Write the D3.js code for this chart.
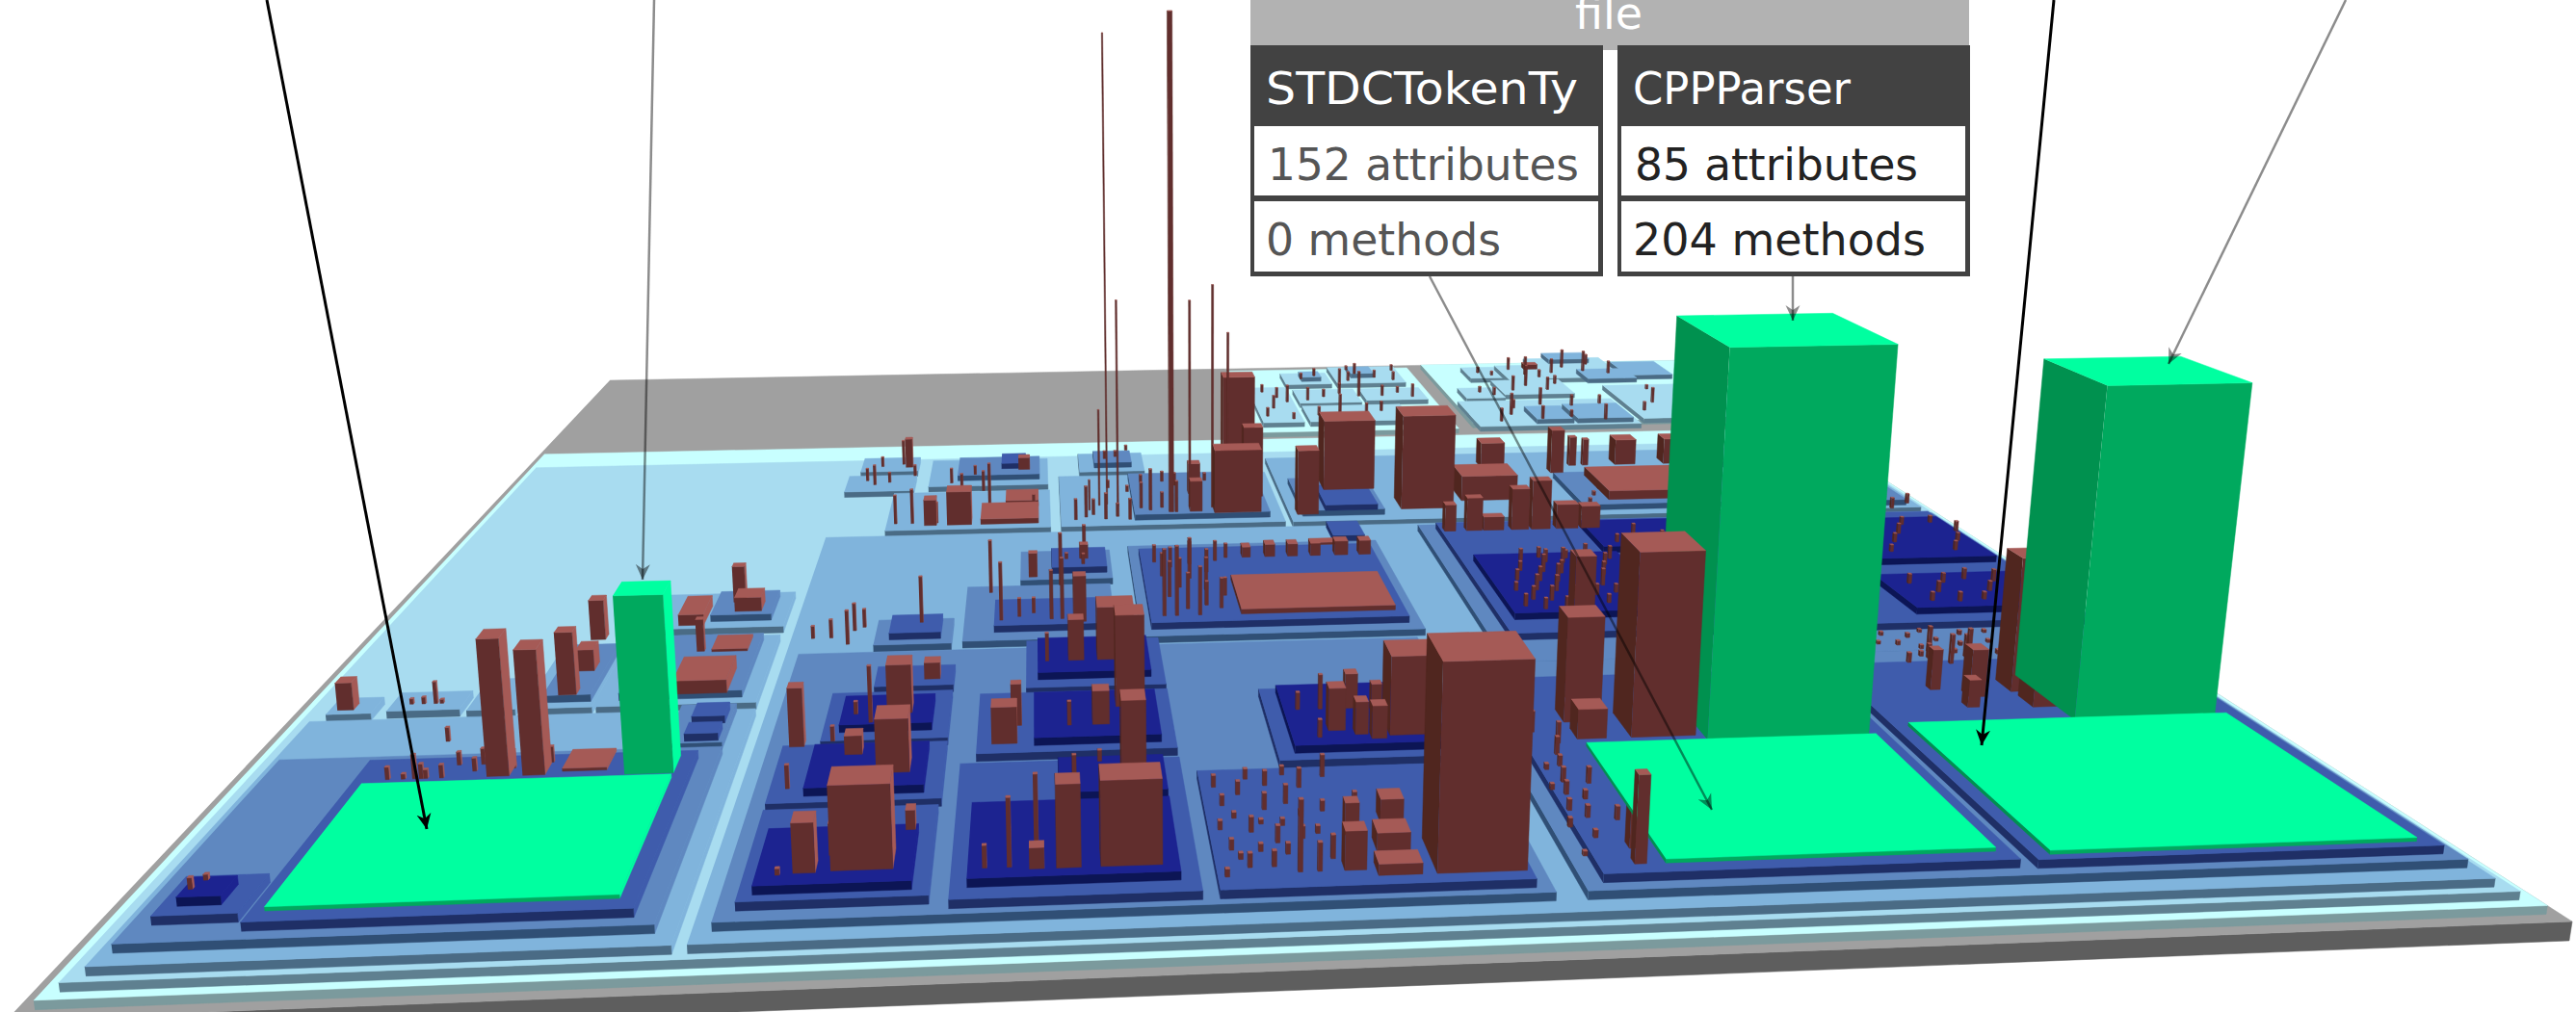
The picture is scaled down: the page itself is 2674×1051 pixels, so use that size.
<!DOCTYPE html>
<html lang="en">
<head>
<meta charset="UTF-8">
<title>Code city - file view</title>
<script src="https://d3js.org/d3.v7.min.js"></script>
<style>
  html, body { margin: 0; background: #fff; overflow: hidden; }
  text { font-family: "DejaVu Sans", sans-serif; }
</style>
</head>
<body>
<svg id="city" width="2674" height="1051"></svg>
<script>
// City data. Ground units run 0-1000 across (u) and front to back (v).
// Slabs: [u0, v0, u1, v1]
const level1Slabs = [[7,6,994,745],[555,765,720,975],[735,780,985,985]];
const level2Slabs = [[14,11,986,695],[600,905,640,945],[645,905,705,965],[565,780,598,895],[603,840,655,885],[660,845,712,885],[603,780,685,830],
  [735,755,865,835],[765,915,795,955],[797,900,830,960],[745,845,778,880],[780,855,840,905],[872,770,960,880],[830,910,900,985]];
const level3Slabs = [[22,15,241,237],[247,15,978,505],[552,515,978,665],[160,245,240,337],[167,350,240,405],[27,245,49,265],[56,247,92,270],[96,245,120,285],[124,245,158,330],
  [284,516,392,598],[399,516,547,630],[307,612,391,677],[249,604,297,642],[256,652,297,687],[414,640,461,687],
  [782,760,812,800],[815,760,860,805],[862,890,905,925],[900,900,940,950],[848,965,885,990],[615,915,632,935],[660,925,680,950]];
const level4Slabs = [[28,24,233,185],[205,190,232,235],[170,252,232,330],[198,360,232,398],[132,252,156,320],[255,24,590,298],[440,310,597,462],[373,405,428,456],[342,310,426,395],[294,308,336,345],
  [448,526,538,620],[327,625,385,670],[560,526,615,600],[603,24,973,260],[630,260,973,490],[750,525,870,600],[880,520,970,620],[425,650,452,680]];
const level5Slabs = [[37,37,70,68],[74,30,224,173],[214,192,230,205],[214,212,230,228],[263,32,339,110],[263,116,340,175],[280,179,340,235],[300,242,340,268],[347,28,448,150],[354,160,448,229],[377,235,448,298],
  [455,28,583,135],[494,143,585,225],[446,320,590,445],[570,462,590,490],[392,415,425,450],[359,322,420,362],[302,315,330,342],[358,640,375,665],[575,525,610,570],[611,30,785,230],[792,29,966,236],[640,290,966,482]];
const level6Slabs = [[44,44,61,60],[269,37,332,85],[279,122,332,167],[288,188,332,222],[354,37,440,103],[392,110,440,145],[381,167,441,220],[383,245,441,292],[502,150,575,220],[647,310,735,408],[730,417,800,468],[872,302,955,356],[850,383,960,459]];

// Files as boxes: [u, v, width, depth, height, level]
const greenFiles = [[80,38,137,107,5,5],[639,37,139,111,5,5],[799,33,158,126,5,5],[195,150,22,18,242,5],[698,151,78,70,537,5],[882,160,70,55,470,5]];
const brownFiles = [
  [133,152,10,12,187,5],[149,152,10,12,171,5],[140,252,9,8,95,4],[139,327,8,8,64,4],[142,283,9,12,33,4],[166,155,20,20,4,5],[198,249,27,32,20,4],[181,355,14,30,18,3],[208,305,19,20,4,4],[200,306,4,4,51,4],[211,365,15,15,23,4],[208,380,7,6,61,4],[31,250,8,8,41,3],
  [299,47,25,17,105,6],[284,46,9,10,62,6],[310,135,15,15,73,6],[294,155,8,8,26,6],[310,200,12,12,70,6],[325,250,8,8,25,5],[265,182,7,7,84,4],[327,80,4,6,25,6],[297,60,3,6,40,6],
  [408,43,25,15,106,6],[420,120,11,12,107,6],[421,200,14,14,133,6],[414,260,19,16,81,6],[390,43,10,10,103,6],[379,43,6,6,26,6],[361,170,12,10,52,5],[370,190,5,5,60,5],[409,180,8,8,48,6],[399,260,8,8,63,6],
  [544,35,37,30,258,5],[548,158,24,20,111,6],[520,35,18,11,14,5],[523,55,14,12,23,5],[529,80,10,10,30,5],[507,40,9,8,49,5],[512,70,6,6,41,5],[532,160,6,7,46,6],[539,155,7,7,46,6],[520,165,8,8,60,6],[532,190,6,6,50,6],[544,185,5,5,40,6],
  [497,330,87,56,8,5],[580,425,7,8,25,5],[565,425,8,8,25,5],[550,425,6,8,22,5],[536,425,6,8,22,5],[522,425,6,8,22,5],[508,425,5,8,18,5],[553,445,17,8,4,5],
  [501,526,31,16,121,4],[514,600,22,15,210,4],[524,560,13,10,138,4],[485,530,8,8,59,4],[487,570,8,8,60,4],[557,530,14,12,125,3],[581,572,35,25,138,4],[626,525,35,25,181,4],[670,540,38,28,48,4],[770,535,70,57,17,4],
  [748,600,9,10,88,4],[705,630,17,14,51,3],[804,630,15,14,52,3],[840,630,20,14,52,3],[770,630,5,5,60,3],[780,630,4,4,55,3],[642,465,7,7,49,5],[656,465,10,7,61,5],[667,465,13,7,25,5],[685,465,11,8,76,5],[698,465,12,8,91,5],[714,465,14,8,45,5],[730,465,12,8,41,5],
  [663,156,31,28,260,5],[637,156,14,12,42,5],[636,175,18,15,151,5],[645,195,10,10,217,5],[626,37,5,5,111,5],[628,50,6,6,50,5],[870,176,14,14,131,5],[869,195,13,15,198,5],[845,190,8,8,70,5],[838,178,6,6,40,5],[830,200,5,5,60,5],
  [324,525,16,14,64,3],[309,525,8,10,49,3],[346,525,38,35,10,3],[362,562,22,25,12,3],[370,650,8,8,25,3],[378,410,5,5,42,4],[409,430,5,5,25,5],[403,325,7,7,75,5],[288,662,5,5,60,3],[820,945,12,8,12,2]
];

// Thin files on a level: [u, v, height, level, optional width]
const thinFiles = [
  // tall spikes behind the middle blocks
  [471,530,934,4,3],[430,550,893,4,0.8],[437,545,400,4,1],[485,540,400,4,1.2],[500,538,430,4,1.2],[510,536,340,4,1.2],[425,560,190,3,1],[418,550,60,3,1],
  // left district
  [46,50,14,6],[49,57,7,6],[88,152,17,5],[95,152,7,5],[100,152,33,5],[103,152,20,5],[105,152,12,5],[112,152,18,5],[116,165,18,5],[125,158,18,5],[127,165,22,5],[142,160,25,5],[158,165,22,5],[77,255,33,3],[71,255,10,3],[65,255,8,3],[80,255,6,3],[100,200,20,4],
  // lower middle
  [270,130,32,5],[286,170,21,6],[277,45,8,6],[294,200,18,6],[381,55,100,6],[370,45,86,6],[360,45,28,6],[398,120,36,6],[410,140,15,6],[397,180,34,6],[387,260,43,6],[302,190,81,6],
  [516,75,48,5],[496,40,36,5],[488,40,90,5],[503,50,30,5],[478,45,20,5],[482,65,22,5],[468,45,18,5],[472,75,20,5],[462,60,14,5],[480,95,22,5],[470,110,18,5],[490,100,25,5],[462,100,14,5],[475,125,14,5],[498,115,26,5],[510,125,30,5],[519,190,50,6],[514,158,25,6],[508,190,25,6],
  [458,38,10,5],[465,52,8,5],[459,78,12,5],[466,88,8,5],[474,58,10,5],[477,82,6,5],[485,55,14,5],[486,80,9,5],[493,68,16,5],[495,88,8,5],[500,72,10,5],[505,92,14,5],[460,118,16,5],[483,118,20,5],[492,128,12,5],
  [608,70,12,5],[612,85,15,5],[615,100,18,5],[617,112,20,5],[620,128,15,5],[622,140,25,5],[626,152,30,5],[616,60,10,5],[610,105,8,5],[613,125,8,5],[607,45,6,5],[618,78,16,5],[622,95,12,5],[628,110,22,5],[630,75,18,5],[617,165,30,5],[620,195,48,5],
  // upper middle
  [453,330,110,5],[460,330,115,5],[467,340,60,5],[473,330,80,5],[478,345,40,5],[458,360,60,5],[465,375,50,5],[472,390,70,5],[480,370,55,5],[486,340,50,5],[490,360,30,5],[456,395,40,5],[462,410,35,5],[474,415,40,5],[483,400,40,5],[490,420,35,5],[497,425,25,5],[453,420,30,5],
  [362,330,95,5],[390,330,80,5],[396,330,100,5],[372,335,30,5],[380,340,25,5],[318,330,75,5],[355,385,90,4],[396,395,90,4],[411,435,55,5],[410,420,18,5],[400,430,10,5],
  [268,330,30,3],[280,340,45,3],[285,345,30,3],[278,320,55,3],[258,330,20,3],
  // back row
  [289,530,55,3],[300,530,66,3],[316,530,40,3],[350,570,80,3],[345,600,40,3],[330,600,35,3],[322,620,30,3],[380,560,25,3],[338,640,18,3],[295,640,22,3],[268,620,40,3],[278,625,20,3],[262,630,25,3],[285,670,50,3],[270,665,20,3],
  [408,530,40,3],[415,535,60,3],[420,540,30,3],[428,530,50,3],[436,535,25,3],[444,528,40,3],[452,540,50,4],[458,535,80,4],[466,540,30,4],[475,530,60,4],[432,600,15,3],[445,590,12,3],[455,600,14,4],[470,600,20,4],[478,590,25,4],[490,600,18,4],[500,600,15,4],
  [432,660,16,4],[440,665,12,4],[448,668,10,5],
  // dense blocks on the right
  [655,320,20,6],[662,330,22,6],[668,345,26,6],[674,360,24,6],[680,375,30,6],[686,392,22,6],[665,315,18,6],[672,328,24,6],[679,343,26,6],[684,358,30,6],[690,372,22,6],[696,390,26,6],[678,318,16,6],[685,330,22,6],[692,345,28,6],[698,360,24,6],[704,376,20,6],[710,392,30,6],[692,318,20,6],[700,335,18,6],[708,350,28,6],[714,368,22,6],[720,385,20,6],[710,320,18,6],[718,338,24,6],[725,355,26,6],
  [656,345,14,6],[661,362,18,6],[667,378,16,6],[672,396,20,6],[703,322,14,6],[722,325,16,6],[728,340,20,6],[712,338,14,6],[730,372,18,6],[726,395,22,6],[700,398,14,6],[684,400,18,6],
  [740,425,14,6],[755,440,18,6],[770,430,14,6],[785,445,15,6],
  [885,312,14,6],[895,325,18,6],[905,340,16,6],[915,312,12,6],[925,325,16,6],[935,340,20,6],[945,315,14,6],[885,340,16,6],[900,310,15,6],[920,345,18,6],[940,328,14,6],
  [860,395,14,6],[870,410,18,6],[880,425,14,6],[890,440,20,6],[900,395,12,6],[910,412,16,6],[920,428,18,6],[930,445,14,6],[940,395,16,6],[950,412,14,6],[958,430,18,6],[875,445,14,6],[905,448,18,6],[950,448,12,6],
  [870,495,35,5],[885,490,25,5],[900,500,30,5],[915,492,20,5],[930,500,35,5],[945,490,20,5],[960,500,18,5],
  [825,265,6,4],[835,270,5,4],[845,268,7,4],[855,262,6,4],[830,280,5,4],[842,282,6,4],[855,278,7,4],[868,272,5,4],[878,265,6,4],[865,285,5,4],[885,280,7,4],[895,268,5,4],[905,262,5,4],[850,252,8,4],[870,255,6,4],[892,252,7,4],[900,282,5,4],
  [835,235,15,5],[842,225,30,5],[848,240,22,5],[852,248,40,5],[856,232,45,5],[862,226,60,5],[868,240,35,5],
  [770,560,10,4],[780,575,14,4],[790,590,12,4],[762,545,8,4],[755,530,8,4],
  // far plates
  [615,925,14,2],[628,935,18,2],[655,915,22,2],[665,940,26,2],[680,925,18,2],[695,915,20,2],[700,950,14,2],[660,955,10,2],
  [570,800,20,2],[578,825,30,2],[585,860,24,2],[592,845,40,2],[575,880,18,2],[590,790,14,2],[610,850,30,2],[625,860,18,2],[640,870,25,2],[612,800,20,2],[630,805,45,2],[650,795,30,2],[665,810,22,2],[675,860,25,2],[690,870,14,2],[700,855,30,2],[655,860,60,2],[645,900,40,2],
  [755,770,30,2],[768,790,50,2],[775,810,20,2],[790,775,30,2],[800,820,40,2],[815,780,15,2],[825,815,25,2],[840,770,35,2],[850,820,20,2],[760,865,14,2],[770,855,18,2],[790,870,35,2],[805,885,50,2],[820,870,30,2],[832,890,20,2],
  [775,935,14,2],[785,925,10,2],[805,945,30,2],[815,925,45,2],[825,915,18,2],[840,930,35,2],[855,950,45,2],[870,935,50,2],[880,960,25,2],[890,925,30,2],[880,795,20,2],[895,820,35,2],[910,790,15,2],[925,850,50,2],[935,810,12,2],[945,860,20,2],[905,865,10,2]
];

const tableHeader = "file";
const tableNames = ["STDCTokenTy", "CPPParser"];
const attributeCounts = [152, 85];
const methodCounts = [0, 204];

// colours per level: [top, front]
const levelColors = [["#a0a0a0","#5e5e5e"],["#c8ffff","#7b9a9d"],["#a8dcf0","#5f8090"],["#80b4dc","#4a6b85"],["#5f88c0","#304f75"],["#3f5cac","#1f2f66"],["#1c2390","#0c1555"]];
const brownColors = {top: "#a55a56", front: "#612e2d", side: "#50261f"};
const greenColors = {top: "#00ffa0", front: "#00a95e", side: "#00914f"};

const uScale = d3.scaleLinear().domain([0, 1000]).range([0, 1]);
const vScale = d3.scaleLinear().domain([0, 1000]).range([0, 1]);
const zScale = d3.scaleLinear().domain([0, 1000]).range([0, -0.1]);
const levelHeight = 11;
const cameraU = 387, cameraV = -647;

// camera fitted on the corners of the base plate and the lean of the towers
function project(u, v, z) {
  const a = uScale(u), b = vScale(v), s = zScale(z);
  const w = 0.0875 * a + 1.4269 * b + 1 + s;
  return [(2896.7 * a + 1529.2 * b + 7 + s * 1250) / w,
          (-18.2 * a - 100.4 * b + 1059 + s * 10000) / w];
}

const svg = d3.select("#city");
const shapes = svg.append("g");

function face(points, fill) {
  shapes.append("path")
    .attr("d", d3.line()(points))
    .attr("fill", fill)
    .attr("stroke", fill)
    .attr("stroke-width", 0.5);
}

// one box, only the faces the camera can see
function drawBox(u0, v0, u1, v1, z0, z1, colors) {
  if (u0 > cameraU) {
    face([project(u0,v0,z0), project(u0,v1,z0), project(u0,v1,z1), project(u0,v0,z1)], colors.side);
  }
  if (u1 < cameraU) {
    face([project(u1,v0,z0), project(u1,v1,z0), project(u1,v1,z1), project(u1,v0,z1)], colors.top);
  }
  face([project(u0,v0,z0), project(u1,v0,z0), project(u1,v0,z1), project(u0,v0,z1)], colors.front);
  face([project(u0,v0,z1), project(u1,v0,z1), project(u1,v1,z1), project(u0,v1,z1)], colors.top);
}

// base plate
drawBox(0, 0, 1000, 1000, -24, 0, {top: levelColors[0][0], front: levelColors[0][1], side: levelColors[0][1]});

// slabs, lowest level first, far ones first
[level1Slabs, level2Slabs, level3Slabs, level4Slabs, level5Slabs, level6Slabs].forEach((slabs, i) => {
  const level = i + 1;
  const colors = {top: levelColors[level][0], front: levelColors[level][1], side: levelColors[level][1]};
  slabs.slice().sort((p, q) => q[1] - p[1]).forEach(s => {
    drawBox(s[0], s[1], s[2], s[3], (level - 1) * levelHeight, level * levelHeight, colors);
  });
});

// all files, sorted so that the nearest to the camera is painted last
const boxes = [
  ...greenFiles.map(d => ({d, colors: greenColors})),
  ...brownFiles.map(d => ({d, colors: brownColors})),
  ...thinFiles.map(t => ({d: [t[0], t[1], t[4] || 1.8, t[4] || 1.8, t[2], t[3]], colors: brownColors}))
];
function cameraDistance(d) {
  const nu = Math.max(d[0], Math.min(cameraU, d[0] + d[2]));
  return Math.hypot(nu - cameraU, d[1] - cameraV);
}
boxes.sort((p, q) => cameraDistance(q.d) - cameraDistance(p.d));
boxes.forEach(b => {
  const [u, v, w, dp, h, level] = b.d;
  drawBox(u, v, u + w, v + dp, level * levelHeight, level * levelHeight + h, b.colors);
});

// leader lines
const defs = svg.append("defs");
[["headBlack", "#000", 1], ["headGray", "#000", 0.45]].forEach(m => {
  defs.append("marker").attr("id", m[0])
    .attr("viewBox", "-16 -8 17 16").attr("refX", 0).attr("refY", 0)
    .attr("markerWidth", 17).attr("markerHeight", 16).attr("markerUnits", "userSpaceOnUse")
    .attr("orient", "auto")
    .append("path").attr("d", "M0,0L-16,-7.5L-11,0L-16,7.5Z").attr("fill", m[1]).attr("fill-opacity", m[2]);
});
const leaders = [
  {from: [277, 0], to: [443, 861], dark: true},
  {from: [679, 0], to: [667, 602], dark: false},
  {from: [1484, 287], to: [1777, 841], dark: false},
  {from: [1861, 287], to: [1861, 333], dark: false},
  {from: [2132, 0], to: [2057, 774], dark: true},
  {from: [2435, 0], to: [2251, 378], dark: false}
];
svg.append("g").selectAll("line").data(leaders).join("line")
  .attr("x1", d => d.from[0]).attr("y1", d => d.from[1])
  .attr("x2", d => d.to[0]).attr("y2", d => d.to[1])
  .attr("stroke", "#000")
  .attr("stroke-opacity", d => d.dark ? 1 : 0.45)
  .attr("stroke-width", d => d.dark ? 3 : 2.5)
  .attr("marker-end", d => d.dark ? "url(#headBlack)" : "url(#headGray)");

// the file table
const table = svg.append("g");
table.append("rect").attr("x", 1298).attr("y", 0).attr("width", 746).attr("height", 52).attr("fill", "#b2b2b2");
table.append("text").attr("x", 1670).attr("y", 30).attr("text-anchor", "middle")
  .attr("font-size", 46).attr("fill", "#fff").text(tableHeader);

const columns = [
  {x: 1298, text: "#555", widths: [324, 323, 244]},
  {x: 1679, text: "#222", widths: [226, 294, 304]}
];
columns.forEach((c, i) => {
  const g = table.append("g").attr("transform", `translate(${c.x},0)`);
  g.append("rect").attr("y", 47).attr("width", 366).attr("height", 240).attr("fill", "#424242");
  g.append("rect").attr("x", 4).attr("y", 131).attr("width", 357).attr("height", 72).attr("fill", "#fff");
  g.append("rect").attr("x", 4).attr("y", 209).attr("width", 357).attr("height", 73).attr("fill", "#fff");
  [[tableNames[i], 108, "#fff", 16], [`${attributeCounts[i]} attributes`, 187, c.text, 18], [`${methodCounts[i]} methods`, 265, c.text, 16]]
    .forEach((row, r) => {
      g.append("text").attr("x", row[3]).attr("y", row[1]).attr("font-size", 46).attr("fill", row[2])
        .attr("textLength", c.widths[r]).attr("lengthAdjust", "spacingAndGlyphs")
        .text(row[0]);
    });
});
</script>
</body>
</html>
